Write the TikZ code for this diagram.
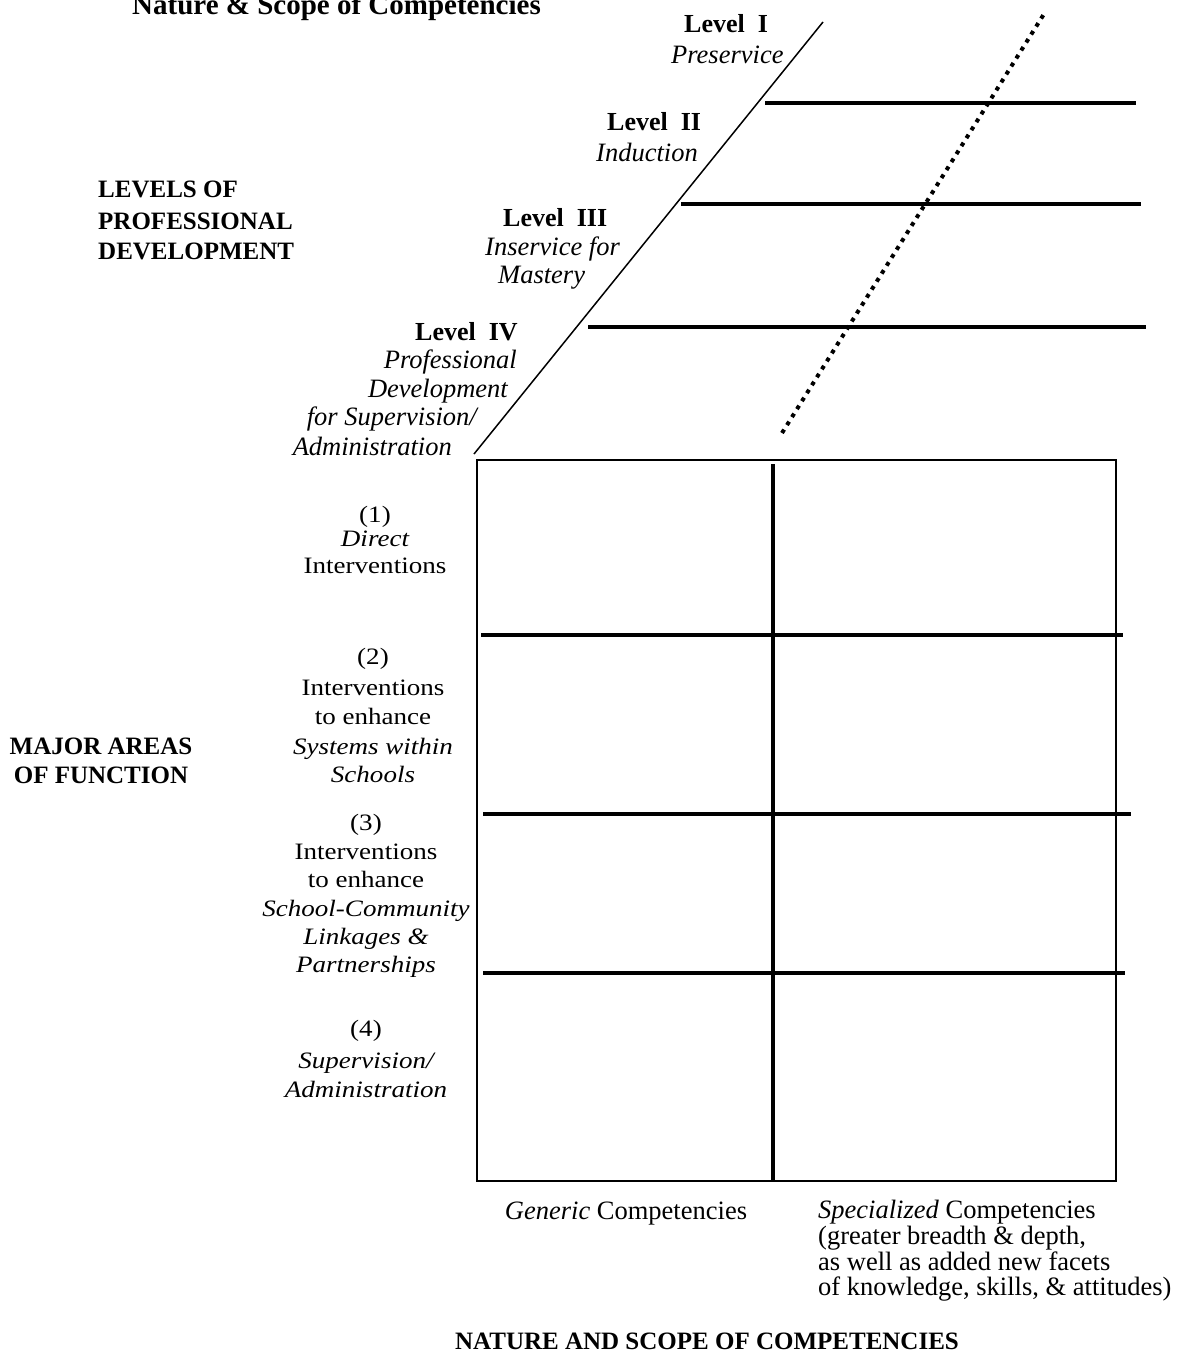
\documentclass[tikz,border=0pt]{standalone}
\usepackage{fontspec}
\setmainfont{Liberation Serif}
\newfontfamily\widefont[FakeStretch=1.15]{Liberation Serif}
\tikzset{
  txt/.style={inner sep=0pt, font=\fontsize{26.5}{30}\selectfont},
  itx/.style={inner sep=0pt, font=\fontsize{26.5}{30}\selectfont\itshape},
  lvl/.style={inner sep=0pt, font=\fontsize{26}{30}\selectfont\bfseries},
  ltx/.style={inner sep=0pt, font=\widefont\fontsize{23.5}{30}\selectfont},
  litx/.style={inner sep=0pt, font=\widefont\fontsize{23.5}{30}\selectfont\itshape},
  head/.style={inner sep=0pt, font=\fontsize{25}{30}\selectfont\bfseries},
  thinline/.style={line width=1.5pt},
  frame/.style={line width=2pt},
  heavy/.style={line width=3.5pt},
  dots/.style={line width=4pt, dash pattern=on 4pt off 5.4pt},
}
\begin{document}
\begin{tikzpicture}[x=1pt,y=-1pt]
\useasboundingbox (0,0) rectangle (1189,1358);
% title (cut at the top edge)
\node[anchor=base west, inner sep=0pt, font=\fontsize{29}{30}\selectfont\bfseries] (title) at (132,14) {Nature \& Scope of Competencies};

% slanted axis and level lines
\coordinate (dA) at (474,454);
\coordinate (dB) at (823,22);
\draw[thinline] (dA) -- (dB);
\coordinate (pA) at (782,433);
\coordinate (pB) at (1044,14);
\draw[dots] (pA) -- (pB);
\coordinate (h1a) at (765,103); \coordinate (h1b) at (1136,103);
\coordinate (h2a) at (681,204); \coordinate (h2b) at (1141,204);
\coordinate (h3a) at (588,327); \coordinate (h3b) at (1146,327);
\draw[heavy] (h1a) -- (h1b);
\draw[heavy] (h2a) -- (h2b);
\draw[heavy] (h3a) -- (h3b);

% level labels
\node[lvl, anchor=base west] (l1) at (684,32) {Level\ \ I};
\node[itx, anchor=base west] (l1t) at (671,63) {Preservice};
\node[lvl, anchor=base west] (l2) at (607,130) {Level\ \ II};
\node[itx, anchor=base west] (l2t) at (596,161) {Induction};
\node[lvl, anchor=base west] (l3) at (503,226) {Level\ \ III};
\node[itx, anchor=base west] (l3t) at (485,255) {Inservice for};
\node[itx, anchor=base west] (l3u) at (498,283) {Mastery};
\node[lvl, anchor=base west] (l4) at (415,340) {Level\ \ IV};
\node[itx, anchor=base east] (l4t) at (517,368) {Professional};
\node[itx, anchor=base east] (l4u) at (508,397) {Development};
\node[itx, anchor=base east] (l4v) at (477,425) {for Supervision/};
\node[itx, anchor=base east] (l4w) at (452,455) {Administration};

\node[head, anchor=base west] (lv1) at (98,197) {LEVELS OF};
\node[head, anchor=base west] (lv2) at (98,229) {PROFESSIONAL};
\node[head, anchor=base west] (lv3) at (98,259) {DEVELOPMENT};

% grid
\coordinate (r1) at (477,460);
\coordinate (r2) at (1116,1181);
\draw[frame] (r1) rectangle (r2);
\coordinate (v1) at (773,464); \coordinate (v2) at (773,1181);
\draw[heavy] (v1) -- (v2);
\coordinate (g1a) at (481,635); \coordinate (g1b) at (1123,635);
\coordinate (g2a) at (483,814); \coordinate (g2b) at (1131,814);
\coordinate (g3a) at (483,973); \coordinate (g3b) at (1125,973);
\draw[heavy] (g1a) -- (g1b);
\draw[heavy] (g2a) -- (g2b);
\draw[heavy] (g3a) -- (g3b);

% row labels
\node[ltx, anchor=base] (a1) at (375,522) {(1)};
\node[litx, anchor=base] (a1b) at (375,546) {Direct};
\node[ltx, anchor=base] (a1c) at (375,573) {Interventions};

\node[ltx, anchor=base] (a2) at (373,664) {(2)};
\node[ltx, anchor=base] (a2b) at (373,695) {Interventions};
\node[ltx, anchor=base] (a2c) at (373,724) {to enhance};
\node[litx, anchor=base] (a2d) at (373,754) {Systems within};
\node[litx, anchor=base] (a2e) at (373,782) {Schools};

\node[ltx, anchor=base] (a3) at (366,830) {(3)};
\node[ltx, anchor=base] (a3b) at (366,859) {Interventions};
\node[ltx, anchor=base] (a3c) at (366,887) {to enhance};
\node[litx, anchor=base] (a3d) at (366,916) {School-Community};
\node[litx, anchor=base] (a3e) at (366,944) {Linkages \&};
\node[litx, anchor=base] (a3f) at (366,972) {Partnerships};

\node[ltx, anchor=base] (a4) at (366,1036) {(4)};
\node[litx, anchor=base] (a4b) at (366,1068) {Supervision/};
\node[litx, anchor=base] (a4c) at (366,1097) {Administration};

\node[head, anchor=base] (ma1) at (101,754) {MAJOR AREAS};
\node[head, anchor=base] (ma2) at (101,783) {OF FUNCTION};

% column labels
\node[txt, anchor=base] (c1) at (626,1219) {\textit{Generic} Competencies};
\node[txt, anchor=base west] (c2) at (818,1218) {\textit{Specialized} Competencies};
\node[txt, anchor=base west] (c2b) at (818,1244) {(greater breadth \& depth,};
\node[txt, anchor=base west] (c2c) at (818,1270) {as well as added new facets};
\node[txt, anchor=base west] (c2d) at (818,1295) {of knowledge, skills, \& attitudes)};

\node[head, anchor=base] (ns) at (707,1349) {NATURE AND SCOPE OF COMPETENCIES};
\end{tikzpicture}
\end{document}
